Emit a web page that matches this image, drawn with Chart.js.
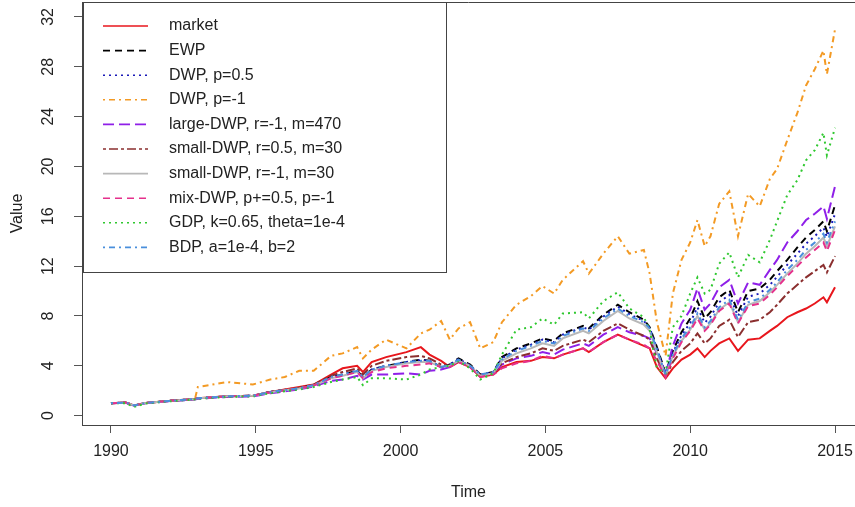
<!DOCTYPE html>
<html lang="en">
<head>
  <meta charset="UTF-8" />
  <title>Portfolio value</title>
  <script src="https://cdn.jsdelivr.net/npm/chart.js"></script>
  <style>
    html, body { margin: 0; padding: 0; background: #fff; overflow: hidden; }
    #wrap { width: 855px; height: 507px; }
  </style>
</head>
<body>
  <div id="wrap"><canvas id="chart" width="855" height="507"></canvas></div>

  <script>
    // time points (decimal years)
    const times = [1990.0, 1990.5, 1990.8, 1991.2, 1992.0, 1992.9, 1993.0, 1994.0, 1994.9,
      1995.5, 1996.0, 1996.5, 1997.0, 1997.6, 1998.0, 1998.5, 1998.7, 1999.0, 1999.5,
      2000.2, 2000.7, 2001.0, 2001.4, 2001.7, 2002.0, 2002.4, 2002.75, 2003.2, 2003.5,
      2004.0, 2004.5, 2004.9, 2005.3, 2005.6, 2006.3, 2006.5, 2007.0, 2007.5, 2007.9,
      2008.4, 2008.6, 2008.85, 2009.15, 2009.4, 2009.7, 2010.0, 2010.25, 2010.5, 2010.7,
      2011.0, 2011.35, 2011.65, 2012.0, 2012.4, 2012.75, 2013.0, 2013.35, 2013.7, 2014.0,
      2014.3, 2014.6, 2014.72, 2015.0];

    const market = [1.0, 1.05, 0.82, 1.02, 1.18, 1.34, 1.4, 1.55, 1.6,
      1.9, 2.1, 2.3, 2.5, 3.3, 3.8, 4.0, 3.5, 4.3, 4.7,
      5.1, 5.5, 4.9, 4.4, 3.9, 4.3, 3.9, 3.1, 3.3, 3.9,
      4.3, 4.4, 4.7, 4.6, 4.9, 5.4, 5.1, 5.9, 6.5, 6.1,
      5.6, 5.4, 3.9, 3.0, 3.8, 4.5, 4.9, 5.4, 4.7, 5.2,
      5.8, 6.2, 5.2, 6.1, 6.2, 6.8, 7.2, 7.9, 8.3, 8.6,
      9.0, 9.5, 9.1, 10.3];

    const ewp = [1.0, 1.05, 0.82, 1.02, 1.18, 1.34, 1.4, 1.55, 1.6,
      1.9, 2.05, 2.2, 2.45, 3.1, 3.3, 3.6, 3.1, 3.7, 4.0,
      4.3, 4.5, 4.4, 3.9, 4.1, 4.6, 4.1, 3.3, 3.5, 4.7,
      5.4, 5.8, 6.2, 6.0, 6.6, 7.2, 7.0, 8.1, 8.9, 8.3,
      7.7, 7.1, 5.5, 3.4, 5.2, 6.7, 7.8, 9.2, 7.8, 8.3,
      9.5, 10.1, 8.3, 10.0, 10.2, 10.9, 11.6, 12.5, 13.5, 14.3,
      14.9, 15.6, 14.8, 16.9];

    const dwpHalf = [1.0, 1.05, 0.82, 1.02, 1.18, 1.34, 1.4, 1.55, 1.6,
      1.9, 2.05, 2.2, 2.45, 3.1, 3.3, 3.6, 3.1, 3.7, 4.0,
      4.3, 4.45, 4.4, 3.9, 4.1, 4.55, 4.05, 3.3, 3.5, 4.6,
      5.3, 5.7, 6.1, 5.9, 6.5, 7.1, 6.9, 7.95, 8.75, 8.15,
      7.6, 7.05, 5.4, 3.35, 5.05, 6.45, 7.45, 8.7, 7.45, 7.95,
      9.1, 9.7, 8.0, 9.55, 9.8, 10.5, 11.15, 12.1, 13.0, 13.8,
      14.4, 15.1, 14.35, 16.2];

    const dwpNeg = [1.0, 1.05, 0.82, 1.02, 1.18, 1.34, 2.3, 2.7, 2.5,
      2.9, 3.1, 3.6, 3.6, 4.8, 5.0, 5.5, 4.6, 5.3, 6.1,
      5.4, 6.6, 6.9, 7.6, 6.1, 7.0, 7.5, 5.4, 5.9, 7.5,
      8.9, 9.6, 10.4, 9.8, 10.9, 12.4, 11.4, 13.0, 14.4, 13.0,
      13.3, 11.4, 7.5, 4.8, 9.8, 12.5, 13.9, 15.7, 13.6, 14.4,
      17.0, 18.0, 14.4, 17.8, 16.8, 19.0, 19.8, 22.1, 24.3, 26.5,
      27.8, 29.3, 27.4, 31.0];

    const largeDwp = [1.0, 1.05, 0.8, 1.0, 1.15, 1.3, 1.35, 1.5, 1.55,
      1.8, 1.95, 2.1, 2.35, 2.8, 2.9, 3.2, 2.9, 3.3, 3.3,
      3.4, 3.3, 3.6, 3.7, 3.9, 4.4, 3.9, 3.2, 3.4, 4.1,
      4.6, 4.8, 5.1, 4.9, 5.3, 5.8, 5.6, 6.5, 7.1, 6.7,
      6.4, 6.2, 5.0, 3.3, 5.6, 7.4, 8.5, 10.2, 8.5, 9.0,
      10.3, 10.9, 9.0, 10.7, 10.5, 11.7, 12.5, 13.9, 14.8, 15.7,
      16.2, 16.8, 15.8, 18.4];

    const smallDwpHalf = [1.0, 1.05, 0.82, 1.02, 1.18, 1.34, 1.4, 1.55, 1.6,
      1.9, 2.08, 2.25, 2.48, 3.2, 3.5, 3.8, 3.3, 4.0, 4.4,
      4.7, 4.8, 4.6, 4.1, 4.0, 4.4, 4.0, 3.2, 3.4, 4.2,
      4.7, 5.0, 5.4, 5.2, 5.6, 6.1, 5.9, 6.8, 7.4, 6.9,
      6.4, 6.1, 4.6, 3.1, 4.3, 5.2, 5.8, 6.6, 5.8, 6.2,
      7.2, 7.7, 6.3, 7.5, 7.7, 8.3, 8.9, 9.8, 10.5, 11.1,
      11.6, 12.1, 11.5, 12.8];

    const smallDwpNeg = [1.0, 1.05, 0.82, 1.02, 1.18, 1.34, 1.4, 1.55, 1.6,
      1.88, 2.03, 2.18, 2.42, 3.0, 3.2, 3.5, 3.0, 3.6, 3.9,
      4.2, 4.3, 4.3, 3.9, 4.0, 4.4, 4.0, 3.2, 3.4, 4.4,
      5.0, 5.4, 5.8, 5.6, 6.2, 6.8, 6.6, 7.6, 8.4, 7.8,
      7.3, 6.8, 5.1, 3.2, 4.8, 6.0, 6.9, 8.0, 6.9, 7.4,
      8.5, 9.1, 7.5, 8.9, 9.2, 9.9, 10.5, 11.4, 12.2, 13.0,
      13.6, 14.3, 13.6, 15.2];

    const mixDwp = [1.0, 1.05, 0.82, 1.02, 1.18, 1.34, 1.4, 1.55, 1.6,
      1.88, 2.03, 2.18, 2.42, 3.0, 3.2, 3.5, 3.0, 3.5, 3.8,
      4.0, 4.1, 4.2, 3.9, 3.9, 4.3, 3.9, 3.1, 3.3, 3.8,
      4.2, 4.4, 4.8, 4.6, 4.9, 5.4, 5.1, 5.9, 6.5, 6.1,
      5.7, 5.4, 4.4, 3.1, 4.6, 5.9, 6.8, 7.8, 6.8, 7.3,
      8.4, 9.0, 7.4, 8.8, 9.0, 9.7, 10.3, 11.2, 12.0, 12.7,
      13.3, 13.9, 13.2, 14.9];

    const gdp = [1.0, 1.0, 0.7, 0.98, 1.15, 1.3, 1.35, 1.5, 1.55,
      1.8, 1.95, 2.1, 2.3, 2.7, 2.9, 3.1, 2.45, 3.0, 3.0,
      2.9, 3.3, 3.7, 3.9, 4.0, 4.4, 3.8, 2.9, 3.4, 4.9,
      6.9, 7.1, 7.8, 7.3, 8.2, 8.3, 7.8, 9.2, 9.9, 8.6,
      7.9, 6.9, 3.8, 3.4, 7.1, 8.0, 9.8, 11.1, 9.8, 10.1,
      12.2, 13.1, 11.1, 12.9, 12.3, 14.1, 15.6, 17.7, 18.9, 20.5,
      21.3, 22.7, 20.9, 23.1];

    const bdp = [1.0, 1.05, 0.82, 1.02, 1.18, 1.34, 1.4, 1.55, 1.6,
      1.9, 2.05, 2.2, 2.45, 3.1, 3.3, 3.6, 3.1, 3.7, 4.0,
      4.3, 4.4, 4.4, 3.9, 4.1, 4.5, 4.0, 3.3, 3.5, 4.5,
      5.2, 5.6, 6.0, 5.8, 6.4, 7.0, 6.8, 7.8, 8.6, 8.0,
      7.5, 7.0, 5.3, 3.3, 4.9, 6.2, 7.1, 8.2, 7.1, 7.6,
      8.7, 9.3, 7.7, 9.1, 9.4, 10.1, 10.7, 11.7, 12.5, 13.3,
      13.9, 14.6, 13.9, 15.6];

    const labels = ['market', 'EWP', 'DWP, p=0.5', 'DWP, p=-1', 'large-DWP, r=-1, m=470',
      'small-DWP, r=0.5, m=30', 'small-DWP, r=-1, m=30', 'mix-DWP, p+=0.5, p=-1',
      'GDP, k=0.65, theta=1e-4', 'BDP, a=1e-4, b=2'];
    const series = [market, ewp, dwpHalf, dwpNeg, largeDwp, smallDwpHalf, smallDwpNeg, mixDwp, gdp, bdp];
    const colors = ['#e8161c', '#000000', '#1a1ab8', '#f39a24', '#8f1fe8',
      '#8b2f2f', '#b8b8b8', '#e5308c', '#2fc82f', '#4a8fdc'];
    // R line types: solid, dashed, dotted, dotdash, longdash, twodash
    const dashes = [[], [7, 5], [2, 4], [2, 4, 6, 4], [11, 5], [3, 3, 9, 3],
      [], [7, 5], [2, 4], [2, 4, 6, 4]];

    const xTicks = [1990, 1995, 2000, 2005, 2010, 2015];
    const yTicks = [0, 4, 8, 12, 16, 20, 24, 28, 32];

    const FONT = '"Liberation Sans", Arial, sans-serif';

    const datasets = series.map((s, i) => ({
      label: labels[i],
      data: s.map((v, j) => ({ x: times[j], y: v })),
      borderColor: colors[i],
      borderDash: dashes[i],
      borderWidth: 2,
      pointRadius: 0,
      tension: 0,
      fill: false,
      order: series.length - i   // last series drawn on top, like R
    }));

    // box top line, tick labels and the R style legend
    const extras = {
      id: 'extras',
      afterDraw(chart) {
        const ctx = chart.ctx;
        const a = chart.chartArea;
        const xs = chart.scales.x, ys = chart.scales.y;
        ctx.save();
        ctx.strokeStyle = '#444';
        ctx.lineWidth = 1;
        ctx.beginPath();
        ctx.moveTo(a.left, a.top + 0.5);
        ctx.lineTo(a.right, a.top + 0.5);
        ctx.stroke();

        ctx.fillStyle = '#222';
        ctx.font = '16px ' + FONT;
        ctx.textAlign = 'center';
        ctx.textBaseline = 'middle';
        xTicks.forEach(v => ctx.fillText(String(v), xs.getPixelForValue(v), 452));
        yTicks.forEach(v => {
          ctx.save();
          ctx.translate(49, ys.getPixelForValue(v));
          ctx.rotate(-Math.PI / 2);
          ctx.fillText(String(v), 0, 0);
          ctx.restore();
        });

        // legend
        const lx = 83, ly = 2, lw = 363, lh = 270;
        ctx.fillStyle = '#fff';
        ctx.fillRect(lx, ly, lw, lh);
        ctx.strokeStyle = '#444';
        ctx.strokeRect(lx + 0.5, ly + 0.5, lw, lh);
        ctx.textAlign = 'left';
        labels.forEach((t, i) => {
          const y = 26 + i * 24.6;
          ctx.strokeStyle = colors[i];
          ctx.lineWidth = 1.6;
          ctx.setLineDash(dashes[i]);
          ctx.beginPath();
          ctx.moveTo(103, y);
          ctx.lineTo(148, y);
          ctx.stroke();
          ctx.setLineDash([]);
          ctx.fillStyle = '#222';
          ctx.fillText(t, 169, y);
        });
        ctx.restore();
      }
    };

    new Chart(document.getElementById('chart'), {
      type: 'line',
      data: { datasets },
      options: {
        responsive: false,
        animation: false,
        layout: { padding: { top: 2, left: 0, right: 0, bottom: 0 } },
        plugins: { legend: { display: false }, tooltip: { enabled: false } },
        scales: {
          x: {
            type: 'linear',
            min: 1989,
            max: 2015.69,
            afterFit: s => { s.height = 82; },
            afterBuildTicks: s => { s.ticks = xTicks.map(v => ({ value: v })); },
            ticks: { display: false },
            grid: { drawOnChartArea: false, tickLength: 8, color: '#555' },
            border: { display: true, color: '#444', width: 1 },
            title: {
              display: true, text: 'Time', color: '#222',
              font: { family: FONT, size: 16 }, padding: { top: 0, bottom: 5 }
            }
          },
          y: {
            type: 'linear',
            min: -0.75,
            max: 33.2,
            afterFit: s => { s.width = 82; },
            afterBuildTicks: s => { s.ticks = yTicks.map(v => ({ value: v })); },
            ticks: { display: false },
            grid: { drawOnChartArea: false, tickLength: 8, color: '#555' },
            border: { display: true, color: '#444', width: 1 },
            title: {
              display: true, text: 'Value', color: '#222',
              font: { family: FONT, size: 16 }, padding: { top: 8, bottom: 0 }
            }
          }
        }
      },
      plugins: [extras]
    });
  </script>
</body>
</html>
